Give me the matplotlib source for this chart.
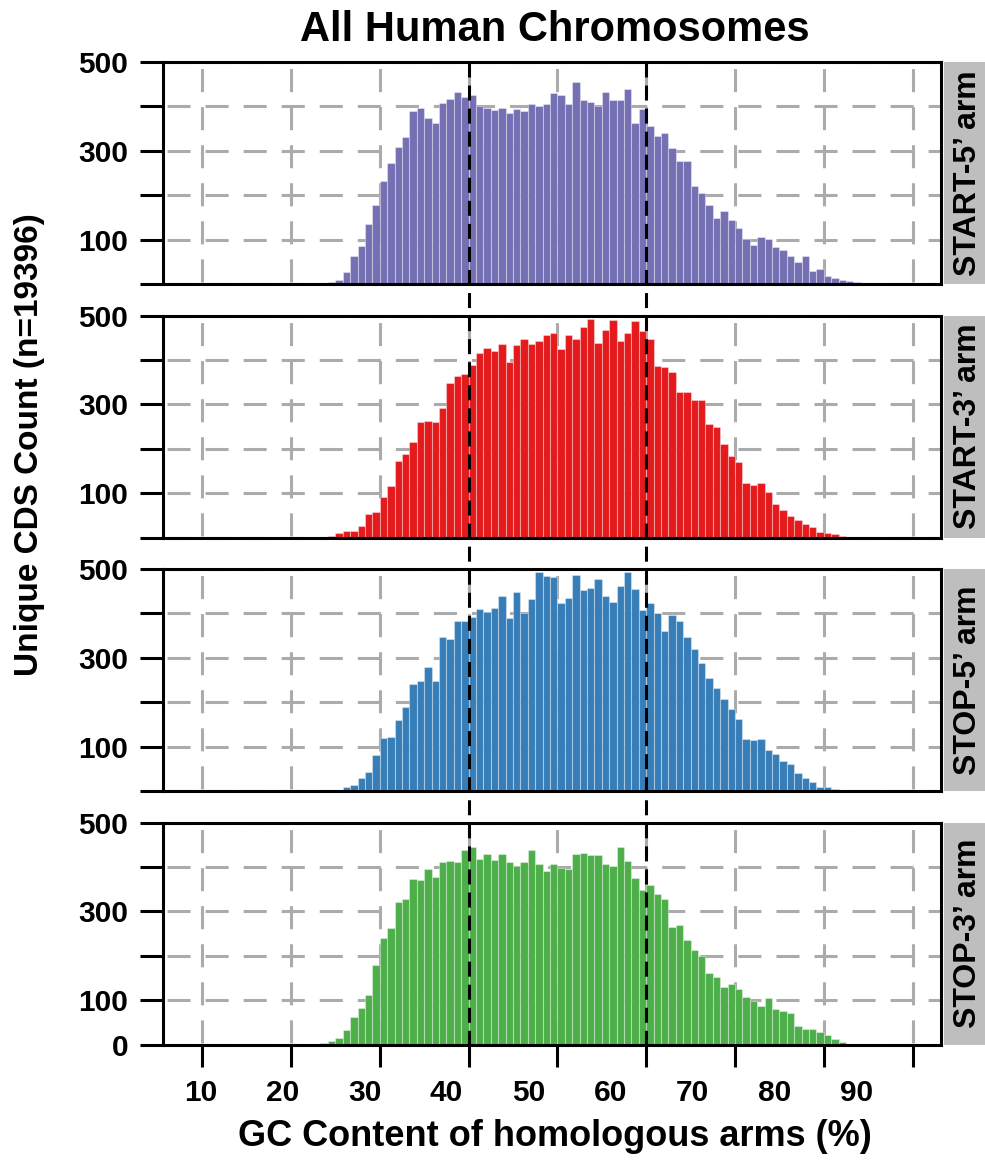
import matplotlib
matplotlib.use('Agg')
import matplotlib.pyplot as plt
import matplotlib.transforms as mtransforms
from matplotlib.lines import Line2D
from matplotlib.patches import Rectangle
import numpy as np

plt.rcParams['font.family'] = ['Liberation Sans', 'DejaVu Sans']
plt.rcParams['font.weight'] = 'bold'
plt.rcParams['lines.scale_dashes'] = False

# histogram data: 120 bins over 0-100 % GC, counts
BIN_WIDTH = 100 / 120

arm_names = ['START-5\u2019 arm', 'START-3\u2019 arm', 'STOP-5\u2019 arm', 'STOP-3\u2019 arm']
arm_colors = ['#7570B3', '#E41A1C', '#377EB8', '#4DAF4A']
first_bin = [28, 29, 29, 28]

start5_counts = [2, 4, 8, 28, 62, 86, 135, 177, 231, 272, 308, 330, 389, 396, 374, 362, 407, 417, 432, 421,
                 425, 400, 396, 392, 396, 386, 395, 390, 406, 402, 405, 430, 425, 406, 456, 414, 410, 401,
                 432, 415, 414, 440, 362, 395,
                 355, 334, 340, 306, 276, 276, 220, 205, 178, 148, 165, 144, 126, 102, 88, 105, 101, 84,
                 77, 62, 49, 64, 29, 34, 17, 13, 9, 6, 4, 2]
start3_counts = [3, 10, 14, 14, 25, 52, 57, 92, 117, 172, 187, 216, 261, 263, 261, 291, 349, 364, 368,
                 388, 416, 426, 420, 435, 395, 433, 446, 435, 443, 456, 461,
                 424, 456, 448, 474, 493, 439, 467, 490, 443, 461, 488, 465,
                 446, 387, 385, 372, 327, 327, 310, 310, 255, 249, 210, 184, 169, 123, 119, 122, 102, 76,
                 63, 48, 40, 31, 23, 13, 10, 7, 4]
stop5_counts = [1, 3, 8, 13, 29, 42, 80, 120, 122, 159, 189, 241, 247, 280, 248, 347, 343, 382, 382,
                392, 410, 404, 412, 439, 390, 449, 401, 433, 494, 484, 481,
                423, 434, 486, 453, 457, 477, 440, 425, 462, 494, 454, 408,
                424, 401, 361, 396, 384, 346, 320, 288, 254, 232, 207, 185, 163, 117, 114, 118, 92, 83,
                68, 61, 40, 29, 20, 10, 8, 4, 2]
stop3_counts = [3, 9, 15, 33, 61, 83, 111, 178, 239, 263, 322, 328, 373, 370, 396, 378, 410, 413, 411, 439,
                445, 417, 428, 415, 430, 411, 401, 410, 437, 407, 391, 407,
                398, 396, 430, 432, 426, 427, 407, 402, 444, 413, 376, 348,
                359, 338, 328, 265, 269, 236, 213, 199, 161, 152, 130, 136, 126, 106, 98, 87, 104, 81,
                76, 70, 41, 36, 36, 28, 21, 13, 5, 2]
all_counts = [start5_counts, start3_counts, stop5_counts, stop3_counts]

gc_ticks = [10, 20, 30, 40, 50, 60, 70, 80, 90]
count_ticks = [0, 100, 200, 300, 400, 500]
marker_gc = [40, 60]

W, H = 985, 1162


def fx(px):
    return px / W


def fy(py):
    return 1 - py / H


fig = plt.figure(figsize=(W / 100, H / 100), dpi=100)

left_px, right_px = 163, 941
top0, panel_h, period = 62, 222, 253.5
grid_kw = dict(color='#ababab', linewidth=2.2)

axes = []
for i, (name, color, counts) in enumerate(zip(arm_names, arm_colors, all_counts)):
    top = top0 + i * period
    ax = fig.add_axes([fx(left_px), fy(top + panel_h), (right_px - left_px) / W, panel_h / H])
    centers = (np.arange(len(counts)) + first_bin[i] + 0.5) * BIN_WIDTH
    ax.bar(centers, counts, width=BIN_WIDTH, color=color,
           edgecolor=(1, 1, 1, 0.35), linewidth=0.8)
    ax.set_xlim(5.6, 93.2)
    ax.set_ylim(0, 500)
    ax.set_axisbelow(True)

    ax.set_xticks(gc_ticks)
    ax.set_yticks(count_ticks)
    ylabels = ['' if v % 200 == 0 else str(v) for v in count_ticks]
    if i == 3:
        ylabels[0] = '0'
    ax.set_yticklabels(ylabels)
    ax.xaxis.grid(True, linestyle=(25.9, (16.6, 10.8)), **grid_kw)
    ax.yaxis.grid(True, linestyle=(24.5, (16.6, 10.8)), **grid_kw)

    ax.tick_params(axis='y', direction='out', length=16.5, width=2.2, pad=8.6, labelsize=21.5)
    if i < 3:
        ax.tick_params(axis='x', which='both', length=0, labelbottom=False)
    else:
        # the tick labels in the picture sit slightly compressed toward the left
        label_pos = [46.77 + 0.9238 * (v - 50) for v in gc_ticks]
        ax.set_xticks(label_pos, labels=[str(v) for v in gc_ticks], minor=True)
        ax.tick_params(axis='x', which='major', direction='out', length=16, width=2.2,
                       labelbottom=False)
        ax.tick_params(axis='x', which='minor', length=0, pad=25, labelsize=21.5)

    for sp in ax.spines.values():
        sp.set_linewidth(2.2)
        sp.set_color('black')

    # facet strip on the right
    strip_x0 = (944 - left_px) / (right_px - left_px)
    strip_w = (990 - 944) / (right_px - left_px)
    ax.add_patch(Rectangle((strip_x0, 0), strip_w, 1, transform=ax.transAxes,
                           facecolor='#bebebe', edgecolor='none', clip_on=False))
    ax.text((968 - left_px) / (right_px - left_px), 0.5, name, transform=ax.transAxes,
            rotation=90, ha='center', va='center', fontsize=23, fontweight='bold')
    axes.append(ax)

# dashed markers running through all panels
y_top = fy(top0)
y_bot = fy(top0 + 3 * period + panel_h)
trans = mtransforms.blended_transform_factory(axes[-1].transData, fig.transFigure)
for g in marker_gc:
    fig.add_artist(Line2D([g, g], [y_top, y_bot], transform=trans, color='black',
                          linewidth=2.2, linestyle=(0, (10.8, 5.8)), zorder=5))

fig.text(fx(555), fy(30), 'All Human Chromosomes', ha='center', va='center',
         fontsize=30, fontweight='bold')
fig.text(fx(555), fy(1137), 'GC Content of homologous arms (%)', ha='center', va='center',
         fontsize=26, fontweight='bold')
fig.text(fx(30), fy(445), 'Unique CDS Count (n=19396)', ha='center', va='center',
         rotation=90, fontsize=24, fontweight='bold')

fig.savefig('out.png', dpi=100)
